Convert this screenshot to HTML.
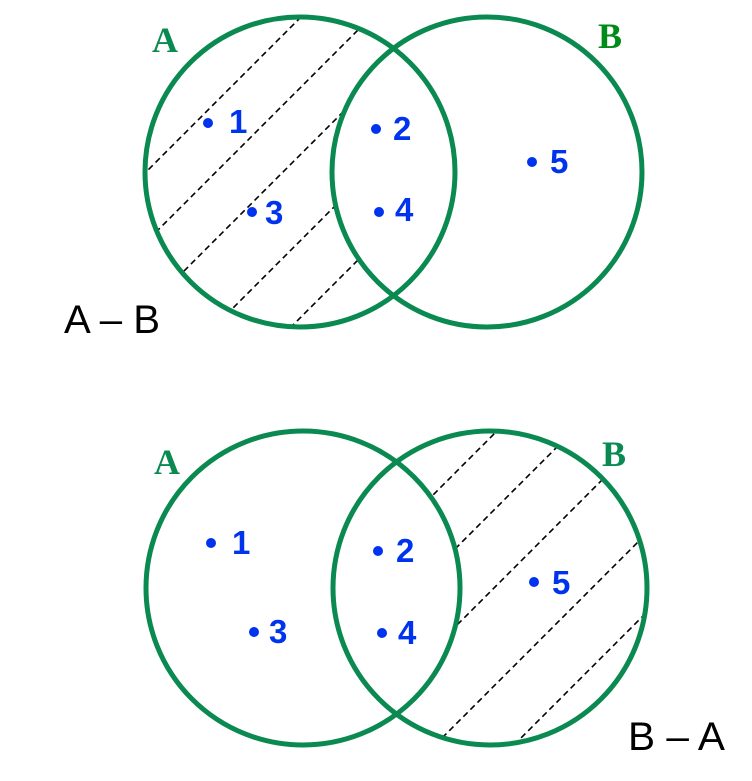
<!DOCTYPE html>
<html><head><style>html,body{margin:0;padding:0;background:#fff}</style></head><body>
<svg width="752" height="776" viewBox="0 0 752 776" xmlns="http://www.w3.org/2000/svg">
<defs>
<mask id="m1" maskUnits="userSpaceOnUse" x="0" y="0" width="752" height="776">
<circle cx="300" cy="172" r="155" fill="#fff"/><circle cx="487" cy="172" r="155" fill="#000"/></mask>
<mask id="m2" maskUnits="userSpaceOnUse" x="0" y="0" width="752" height="776">
<circle cx="490" cy="588" r="157" fill="#fff"/><circle cx="303" cy="588" r="157" fill="#000"/></mask>
</defs>
<g stroke="#000" stroke-width="1.6" stroke-dasharray="6,4" mask="url(#m1)">
<line x1="0" y1="318" x2="318" y2="0"/>
<line x1="0" y1="388" x2="388" y2="0"/>
<line x1="0" y1="455" x2="455" y2="0"/>
<line x1="0" y1="541" x2="541" y2="0"/>
<line x1="0" y1="618" x2="618" y2="0"/>
</g>
<g stroke="#000" stroke-width="1.6" stroke-dasharray="6,4" mask="url(#m2)">
<line x1="200" y1="728" x2="700" y2="228"/>
<line x1="250" y1="754" x2="750" y2="254"/>
<line x1="330" y1="752" x2="752" y2="330"/>
<line x1="428" y1="752" x2="752" y2="428"/>
<line x1="507" y1="752" x2="752" y2="507"/>
</g>
<g fill="none" stroke="#0a8a50" stroke-width="5">
<circle cx="300" cy="172" r="155"/><circle cx="487" cy="172" r="155"/>
<circle cx="303" cy="588" r="157"/><circle cx="490" cy="588" r="157"/>
</g>
<g font-family="Liberation Serif, serif" font-weight="bold" font-size="36">
<text x="152" y="52" fill="#0a8a50">A</text>
<text x="598" y="48" fill="#008a1a">B</text>
<text x="154" y="474" fill="#0a8a50">A</text>
<text x="602" y="466" fill="#0a8a50">B</text>
</g>
<g fill="#0033ee">
<circle cx="208" cy="123" r="5"/><circle cx="376" cy="129" r="5"/><circle cx="252" cy="212" r="5"/><circle cx="379" cy="212" r="5"/><circle cx="532" cy="162" r="5"/>
<circle cx="211" cy="543" r="5"/><circle cx="378" cy="551" r="5"/><circle cx="254" cy="632" r="5"/><circle cx="382" cy="633" r="5"/><circle cx="534" cy="582" r="5"/>
</g>
<g font-family="Liberation Sans, sans-serif" font-weight="bold" font-size="33" fill="#0033ee">
<text x="229" y="133">1</text><text x="393" y="140">2</text><text x="265" y="224">3</text><text x="395" y="221">4</text><text x="550" y="173">5</text>
<text x="232" y="554">1</text><text x="396" y="562">2</text><text x="269" y="643">3</text><text x="398" y="644">4</text><text x="552" y="594">5</text>
</g>
<g font-family="Liberation Sans, sans-serif" font-size="40" fill="#000">
<text x="64" y="333" textLength="96" lengthAdjust="spacingAndGlyphs">A – B</text>
<text x="628" y="750" textLength="97" lengthAdjust="spacingAndGlyphs">B – A</text>
</g>
</svg>
</body></html>
